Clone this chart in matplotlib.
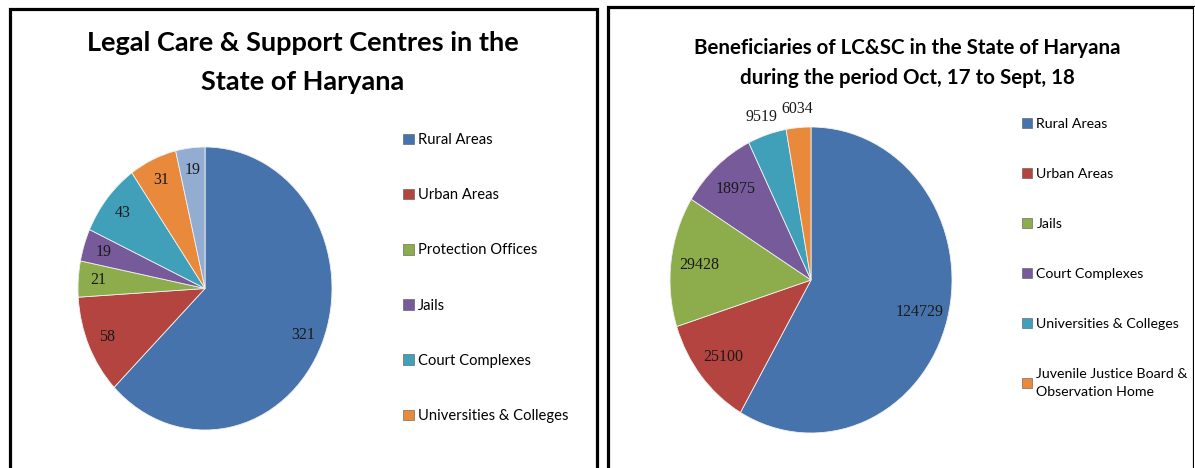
import matplotlib
matplotlib.use("Agg")
import matplotlib.pyplot as plt
from matplotlib.patches import Rectangle

# left chart: number of centres
centres_cats = ["Rural Areas", "Urban Areas", "Protection Offices", "Jails",
                "Court Complexes", "Universities & Colleges", "Others"]
centres_vals = [321, 58, 21, 19, 43, 31, 19]
centres_shown = 6   # the last legend entry is cut off in the original

# right chart: beneficiaries
benef_cats = ["Rural Areas", "Urban Areas", "Jails", "Court Complexes",
              "Universities & Colleges", "Juvenile Justice Board &\nObservation Home"]
benef_vals = [124729, 25100, 29428, 18975, 9519, 6034]

colors = ["#4673AC", "#B3443F", "#8DAD4C", "#765A9A", "#40A0B9", "#E8893B", "#92ACD2"]

W, H = 1195, 468
fig = plt.figure(figsize=(W / 100, H / 100), dpi=100)
fig.patch.set_facecolor("white")


def fx(x):
    return x / W


def fy(y):
    return 1 - y / H


# panel borders
fig.add_artist(Rectangle((fx(9.5), fy(480)), fx(597 - 9.5), (480 - 9.5) / H,
                         transform=fig.transFigure, fill=False, lw=2.3, ec="black"))
fig.add_artist(Rectangle((fx(607.5), fy(480)), fx(1194 - 607.5), (480 - 7) / H,
                         transform=fig.transFigure, fill=False, lw=2.3, ec="black"))
fig.add_artist(Rectangle((fx(1194), fy(480)), fx(10), (480 - 7) / H,
                         transform=fig.transFigure, fill=True, lw=0, fc="white"))


def make_pie(box, values, pctd):
    x0, y0, x1, y1 = box
    ax = fig.add_axes([fx(x0), fy(y1), fx(x1 - x0), (y1 - y0) / H])
    total = sum(values)
    wedges, texts, autos = ax.pie(values, colors=colors[:len(values)], startangle=90,
                                  counterclock=False, pctdistance=pctd,
                                  autopct=lambda p: f"{round(p * total / 100):d}",
                                  wedgeprops=dict(edgecolor="#f0f0f0", linewidth=0.6),
                                  textprops=dict(family="Liberation Serif", fontsize=11.5,
                                                 color="#1a1a1a"))
    ax.set_aspect("auto")
    ax.set_xlim(-1, 1)
    ax.set_ylim(-1, 1)
    return ax, wedges, autos


def style_legend(leg):
    for h in leg.legend_handles:
        h.set_edgecolor("#555555")
        h.set_linewidth(0.4)


# left chart
ax1, w1, a1 = make_pie((78, 147, 332, 430), centres_vals, 0.84)
fig.text(fx(303), fy(43), "Legal Care & Support Centres in the", ha="center", va="center",
         family="Lato", fontweight="bold", fontsize=19.5)
fig.text(fx(303), fy(82), "State of Haryana", ha="center", va="center",
         family="Lato", fontweight="bold", fontsize=19.5)
leg1 = fig.legend(w1[:centres_shown], centres_cats[:centres_shown], loc="upper left",
                  bbox_to_anchor=(fx(403), fy(133)), frameon=False, borderpad=0,
                  borderaxespad=0, handlelength=0.72, handleheight=0.72, handletextpad=0.3,
                  labelspacing=2.8, prop=dict(family="Lato", size=10.6))
style_legend(leg1)

# right chart
ax2, w2, a2 = make_pie((670, 127, 952, 433), benef_vals, 0.8)
for t in a2[4:]:
    x, y = t.get_position()
    t.set_position((x * 1.12 / 0.8, y * 1.12 / 0.8))
fig.text(fx(907), fy(48), "Beneficiaries of LC&SC in the State of Haryana", ha="center",
         va="center", family="Lato", fontweight="bold", fontsize=14.8)
fig.text(fx(907), fy(78), "during the period Oct, 17 to Sept, 18", ha="center",
         va="center", family="Lato", fontweight="bold", fontsize=14.8)
leg2 = fig.legend(w2, benef_cats, loc="upper left",
                  bbox_to_anchor=(fx(1022), fy(118)), frameon=False, borderpad=0,
                  borderaxespad=0, handlelength=0.72, handleheight=0.72, handletextpad=0.3,
                  labelspacing=2.68, prop=dict(family="Lato", size=10.2))
style_legend(leg2)
for t in leg2.get_texts():
    t.set_linespacing(1.6)

fig.savefig("out.png", dpi=100, facecolor="white")
